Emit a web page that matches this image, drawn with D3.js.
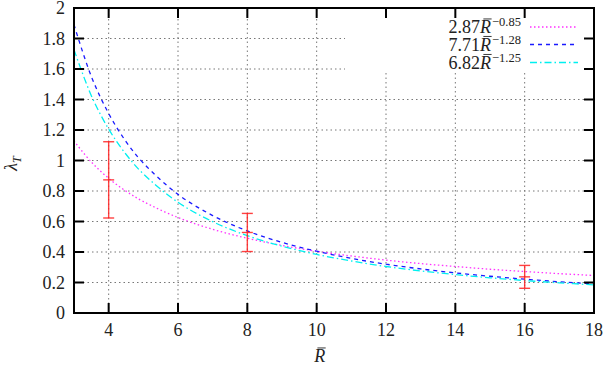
<!DOCTYPE html>
<html>
<head>
<meta charset="utf-8">
<script src="https://cdn.jsdelivr.net/npm/d3@7"></script>
<style>
  body { margin: 0; background: #fff; }
</style>
</head>
<body>
<script>
// measured points with error bars
let obsR = [4, 8, 16];
let obsLambda = [0.873, 0.528, 0.237];
let obsErr = [0.25, 0.125, 0.075];

// fitted curves, values
let curveR = [3, 3.5, 4, 4.5, 5, 6, 7, 8, 9, 10, 11, 12, 13, 14, 15, 16, 17, 18];
let fitA = [1.128, 0.99, 0.883, 0.799, 0.731, 0.626, 0.549, 0.490, 0.443, 0.405, 0.374, 0.347, 0.324, 0.305, 0.287, 0.272, 0.258, 0.246];
let fitB = [1.89, 1.551, 1.308, 1.124, 0.983, 0.778, 0.639, 0.538, 0.463, 0.405, 0.358, 0.320, 0.289, 0.263, 0.241, 0.222, 0.205, 0.191];
let fitC = [1.727, 1.425, 1.206, 1.041, 0.912, 0.726, 0.599, 0.507, 0.438, 0.384, 0.341, 0.305, 0.276, 0.252, 0.231, 0.213, 0.198, 0.184];

let legendCoef = ["2.87", "7.71", "6.82"];
let legendExp = ["\u22120.85", "\u22121.28", "\u22121.25"];

let xTicks = [4, 6, 8, 10, 12, 14, 16, 18];
let yTicks = [0, 0.2, 0.4, 0.6, 0.8, 1, 1.2, 1.4, 1.6, 1.8, 2];

let width = 609, height = 366;
let margin = {left: 74, right: 15, top: 8, bottom: 53};
let font = "Liberation Serif";

let x = d3.scaleLinear().domain([3, 18]).range([margin.left, width - margin.right]);
let y = d3.scaleLinear().domain([0, 2]).range([height - margin.bottom, margin.top]);

let svg = d3.select("body").append("svg").attr("width", width).attr("height", height);

// clip for curves
svg.append("clipPath").attr("id", "plot")
  .append("rect")
  .attr("x", x(3)).attr("y", y(2))
  .attr("width", x(18) - x(3)).attr("height", y(0) - y(2));

// grid, hidden behind the key box
let keyBox = {x0: 345, y0: 18, x1: x(18), y1: 71};
let grid = svg.append("g").attr("stroke", "#777").attr("stroke-width", 1).attr("stroke-dasharray", "1.5,3");
yTicks.filter(d => d > 0 && d < 2).forEach(d => {
  let yy = y(d);
  let x1 = (yy > keyBox.y0 && yy < keyBox.y1) ? keyBox.x0 : x(18);
  grid.append("line").attr("x1", x(3)).attr("x2", x1).attr("y1", yy).attr("y2", yy);
});
xTicks.filter(d => d < 18).forEach(d => {
  let xx = x(d);
  let y1 = (xx > keyBox.x0) ? keyBox.y1 : y(2);
  grid.append("line").attr("x1", xx).attr("x2", xx).attr("y1", y(0)).attr("y2", y1);
});

// fitted curves
let line = d3.line().curve(d3.curveCatmullRom).x((d, i) => x(curveR[i])).y(d => y(d));
let curves = svg.append("g").attr("clip-path", "url(#plot)").attr("fill", "none");
let styles = [
  {data: fitA, color: "#ff30ff", dash: "1.5,2.5", w: 1.3},
  {data: fitB, color: "#1a1aff", dash: "4,4", w: 1.3},
  {data: fitC, color: "#00f0f0", dash: "7,3,1.5,3", w: 1.3}
];
styles.forEach(s => {
  curves.append("path").attr("d", line(s.data))
    .attr("stroke", s.color).attr("stroke-width", s.w).attr("stroke-dasharray", s.dash);
});

// error bars
let eb = svg.append("g").attr("stroke", "#ff2020").attr("stroke-width", 1.4).attr("stroke-opacity", 0.85);
obsR.forEach((r, i) => {
  let cx = x(r);
  let lo = y(obsLambda[i] - obsErr[i]), hi = y(obsLambda[i] + obsErr[i]), c = y(obsLambda[i]);
  eb.append("line").attr("x1", cx).attr("x2", cx).attr("y1", lo).attr("y2", hi);
  [lo, hi, c].forEach(yy => {
    eb.append("line").attr("x1", cx - 5.5).attr("x2", cx + 5.5).attr("y1", yy).attr("y2", yy);
  });
});

// frame and ticks (ticks on all four sides, pointing inward)
let axes = svg.append("g").attr("stroke", "#000").attr("stroke-width", 2).attr("fill", "none");
axes.append("rect").attr("x", x(3)).attr("y", y(2)).attr("width", x(18) - x(3)).attr("height", y(0) - y(2));
xTicks.filter(d => d < 18).forEach(d => {
  axes.append("line").attr("x1", x(d)).attr("x2", x(d)).attr("y1", y(0)).attr("y2", y(0) - 10);
  axes.append("line").attr("x1", x(d)).attr("x2", x(d)).attr("y1", y(2)).attr("y2", y(2) + 10);
});
yTicks.filter(d => d > 0 && d < 2).forEach(d => {
  axes.append("line").attr("x1", x(3)).attr("x2", x(3) + 10).attr("y1", y(d)).attr("y2", y(d));
  axes.append("line").attr("x1", x(18)).attr("x2", x(18) - 10).attr("y1", y(d)).attr("y2", y(d));
});

// tick labels
let fs = 18;
let ink = "#222";
svg.append("g").selectAll("text").data(xTicks).join("text")
  .attr("x", d => x(d)).attr("y", y(0) + 23).attr("fill", ink).attr("font-family", font)
  .attr("text-anchor", "middle").attr("font-size", fs).text(d => d);
svg.append("g").selectAll("text").data(yTicks).join("text")
  .attr("x", x(3) - 9).attr("y", d => y(d) + 6).attr("fill", ink).attr("font-family", font)
  .attr("text-anchor", "end").attr("font-size", fs).text(d => d);

// R with a bar above it
function barR(g, xPos, yBase, size) {
  let t = g.append("text").attr("x", xPos).attr("y", yBase).attr("fill", ink).attr("font-family", font)
    .attr("font-size", size).attr("font-style", "italic").text("R");
  let w = t.node().getComputedTextLength();
  g.append("line").attr("x1", xPos + w * 0.3).attr("x2", xPos + w * 1.05)
    .attr("y1", yBase - size * 0.78).attr("y2", yBase - size * 0.78)
    .attr("stroke", ink).attr("stroke-width", 0.9);
  return w;
}

// axis titles
barR(svg, x(10.1) - 6, 362, fs);

let yl = svg.append("text").attr("transform", "translate(17," + y(0.98) + ") rotate(-90)")
  .attr("text-anchor", "middle").attr("font-size", fs).attr("fill", ink).attr("font-family", font);
yl.append("tspan").attr("font-style", "italic").text("\u03bb");
yl.append("tspan").attr("font-style", "italic").attr("font-size", 12).attr("dy", 4).text("T");

// key: coefficient, barred R, exponent, right-aligned at x=521
let keyY = [27, 44.5, 62.5];
styles.forEach((s, i) => {
  let g = svg.append("g");
  let base = keyY[i] + 6;
  let c = g.append("text").attr("y", base).attr("font-size", fs).attr("fill", ink)
    .attr("font-family", font).text(legendCoef[i]);
  let e = g.append("text").attr("y", base - 7).attr("font-size", 12.5).attr("fill", ink)
    .attr("font-family", font).text(legendExp[i]);
  let cw = c.node().getComputedTextLength();
  let ew = e.node().getComputedTextLength();
  let probe = g.append("text").attr("font-size", fs).attr("font-family", font)
    .attr("font-style", "italic").text("R");
  let rw = probe.node().getComputedTextLength();
  probe.remove();
  let x0 = 521 - ew - rw - cw - 1;
  c.attr("x", x0);
  barR(g, x0 + cw, base, fs);
  e.attr("x", x0 + cw + rw + 1);
  svg.append("line").attr("x1", 530).attr("x2", 578).attr("y1", keyY[i]).attr("y2", keyY[i])
    .attr("stroke", s.color).attr("stroke-width", s.w).attr("stroke-dasharray", s.dash);
});
</script>
</body>
</html>
